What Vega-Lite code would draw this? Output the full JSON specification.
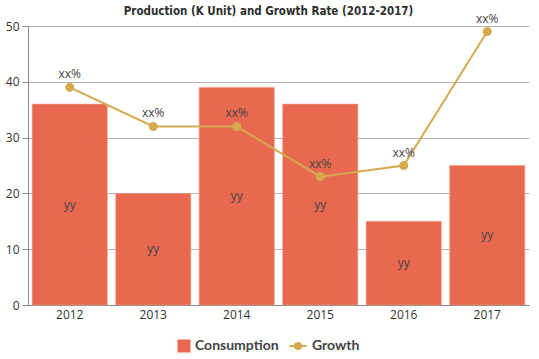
{
  "$schema": "https://vega.github.io/schema/vega-lite/v6.json",
  "width": 501,
  "height": 279,
  "autosize": {"type": "none"},
  "padding": {"left": 28, "top": 26, "right": 10, "bottom": 54},
  "background": "white",
  "title": {
    "text": "Production (K Unit) and Growth Rate (2012-2017)",
    "font": "DejaVu Sans Condensed",
    "fontSize": 11.5,
    "fontWeight": "bold",
    "color": "#2e2e2e",
    "anchor": "middle",
    "dx": -10,
    "offset": -5
  },
  "data": {
    "values": [
      {"year": "2012", "consumption": 36, "growth": 39, "barLabel": "yy", "lineLabel": "xx%"},
      {"year": "2013", "consumption": 20, "growth": 32, "barLabel": "yy", "lineLabel": "xx%"},
      {"year": "2014", "consumption": 39, "growth": 32, "barLabel": "yy", "lineLabel": "xx%"},
      {"year": "2015", "consumption": 36, "growth": 23, "barLabel": "yy", "lineLabel": "xx%"},
      {"year": "2016", "consumption": 15, "growth": 25, "barLabel": "yy", "lineLabel": "xx%"},
      {"year": "2017", "consumption": 25, "growth": 49, "barLabel": "yy", "lineLabel": "xx%"}
    ]
  },
  "config": {
    "view": {"stroke": null},
    "axis": {"labelFont": "Open Sans", "labelFontSize": 12, "labelColor": "#333333"},
    "legend": {"labelFont": "Lato", "labelFontSize": 14, "labelFontWeight": "bold", "labelColor": "#444444"}
  },
  "encoding": {
    "x": {
      "field": "year",
      "type": "nominal",
      "scale": {"paddingInner": 0.1, "paddingOuter": 0.05},
      "axis": {"title": null, "labelAngle": 0, "ticks": false, "domainColor": "#888888", "labelPadding": 4}
    }
  },
  "layer": [
    {
      "mark": {"type": "bar", "stroke": "#f29a86", "strokeWidth": 0.6},
      "encoding": {
        "y": {
          "field": "consumption",
          "type": "quantitative",
          "scale": {"domain": [0, 50]},
          "axis": {"title": null, "values": [0, 10, 20, 30, 40, 50], "gridColor": "#b4b4b4", "domainColor": "#888888", "tickColor": "#888888", "tickSize": 6, "labelPadding": 3}
        },
        "fill": {
          "datum": "Consumption",
          "type": "nominal",
          "scale": {"domain": ["Consumption"], "range": ["#E8694F"]},
          "legend": {"title": null, "orient": "none", "legendX": 149, "legendY": 313, "symbolType": "square", "symbolSize": 170, "symbolStrokeWidth": 0}
        }
      }
    },
    {
      "mark": {"type": "text", "font": "Open Sans", "fontSize": 12, "color": "#444444"},
      "transform": [{"calculate": "datum.consumption / 2", "as": "mid"}],
      "encoding": {
        "y": {"field": "mid", "type": "quantitative"},
        "text": {"field": "barLabel"}
      }
    },
    {
      "mark": {"type": "line", "strokeWidth": 2, "point": {"filled": true, "size": 50, "color": "#D4A950"}},
      "encoding": {
        "y": {"field": "growth", "type": "quantitative"},
        "stroke": {
          "datum": "Growth",
          "type": "nominal",
          "scale": {"domain": ["Growth"], "range": ["#D4A950"]},
          "legend": {"title": null, "orient": "none", "legendX": 260, "legendY": 310, "symbolType": "M-1,0H1M0.35,0A0.35,0.35,0,1,1,-0.35,0A0.35,0.35,0,1,1,0.35,0Z", "symbolFillColor": "#D4A950", "symbolSize": 300, "symbolStrokeWidth": 2}
        }
      }
    },
    {
      "mark": {"type": "text", "font": "Open Sans", "fontSize": 12, "color": "#444444", "baseline": "bottom", "dy": -6},
      "encoding": {
        "y": {"field": "growth", "type": "quantitative"},
        "text": {"field": "lineLabel"}
      }
    }
  ]
}
